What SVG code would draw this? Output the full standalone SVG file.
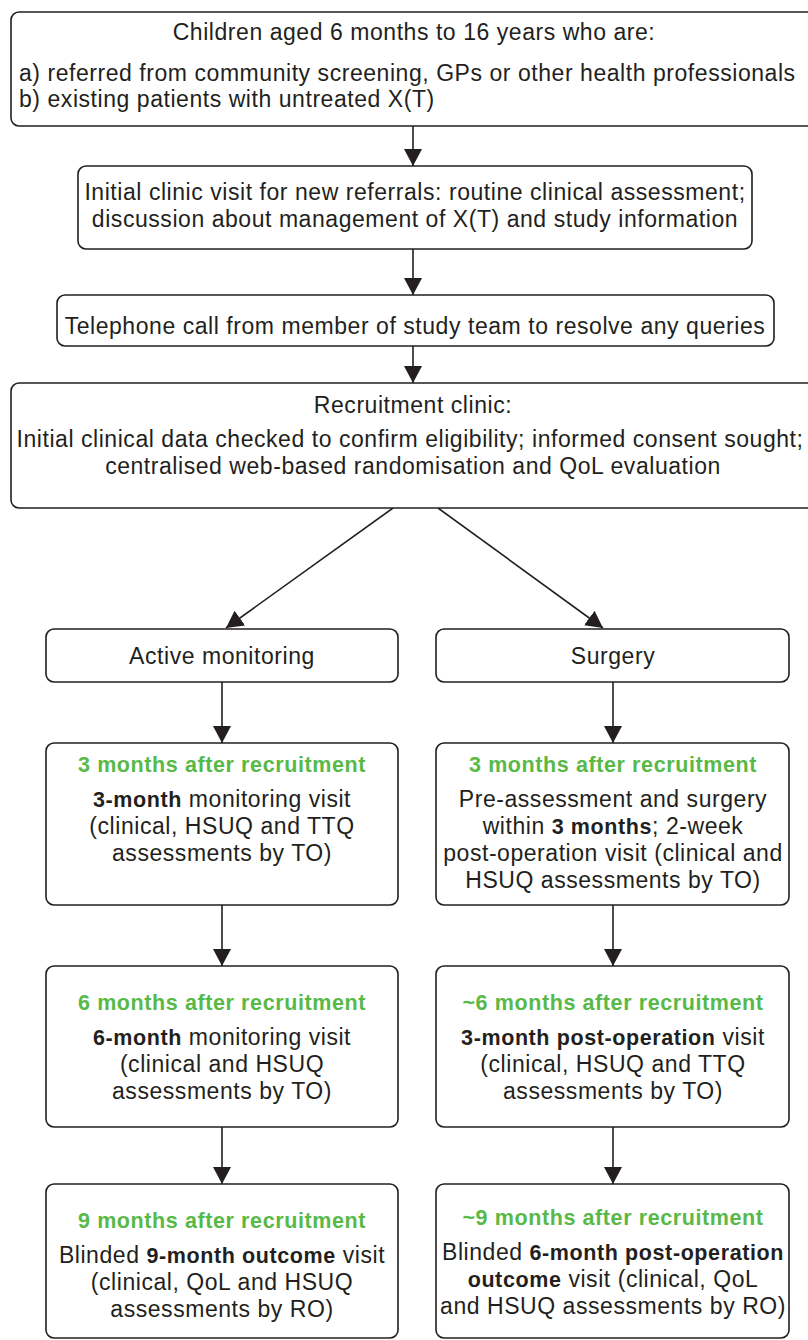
<svg xmlns="http://www.w3.org/2000/svg" width="808" height="1340" viewBox="0 0 808 1340">
<defs>
<style>
.box{fill:#fff;stroke:#231f20;stroke-width:1.6}
.t{font-family:"Liberation Sans",Arial,sans-serif;font-size:23px;letter-spacing:0.55px;fill:#231f20}
.c{text-anchor:middle}
.g{fill:#58b947;font-weight:bold;font-size:21.5px;letter-spacing:0.6px}
.b{font-weight:bold;font-size:21.5px;letter-spacing:0.6px}
.conn{stroke:#231f20;stroke-width:1.6;fill:none;marker-end:url(#ah)}
</style>
<marker id="ah" markerUnits="userSpaceOnUse" markerWidth="17" markerHeight="20" viewBox="0 0 17 20" refX="17" refY="10" orient="auto">
<path d="M0,1 L17,10 L0,19 Z" fill="#231f20"/>
</marker>
</defs>
<g id="connectors">
<line class="conn" x1="413" y1="126" x2="413" y2="166"/>
<line class="conn" x1="413" y1="249" x2="413" y2="295"/>
<line class="conn" x1="413" y1="346" x2="413" y2="383"/>
<line class="conn" x1="393" y1="508" x2="226" y2="628"/>
<line class="conn" x1="438" y1="508" x2="603" y2="628"/>
<line class="conn" x1="222" y1="682" x2="222" y2="743"/>
<line class="conn" x1="613" y1="682" x2="613" y2="743"/>
<line class="conn" x1="222" y1="905" x2="222" y2="966"/>
<line class="conn" x1="613" y1="905" x2="613" y2="966"/>
<line class="conn" x1="222" y1="1127" x2="222" y2="1184"/>
<line class="conn" x1="613" y1="1127" x2="613" y2="1184"/>
</g>
<g id="n1">
<rect class="box" x="11" y="12" width="810" height="114" rx="8"/>
<text class="t c" x="414" y="40">Children aged 6 months to 16 years who are:</text>
<text class="t" x="19" y="81">a) referred from community screening, GPs or other health professionals<tspan x="19" dy="26">b) existing patients with untreated X(T)</tspan></text>
</g>
<g id="n2">
<rect class="box" x="78" y="166" width="674" height="83" rx="8"/>
<text class="t c" x="415" y="200">Initial clinic visit for new referrals: routine clinical assessment;<tspan x="415" dy="27">discussion about management of X(T) and study information</tspan></text>
</g>
<g id="n3">
<rect class="box" x="57" y="295" width="717" height="51" rx="8"/>
<text class="t c" x="415" y="334">Telephone call from member of study team to resolve any queries</text>
</g>
<g id="n4">
<rect class="box" x="11" y="383" width="810" height="125" rx="8"/>
<text class="t c" x="413" y="413">Recruitment clinic:</text>
<text class="t c" x="410" y="447">Initial clinical data checked to confirm eligibility; informed consent sought;<tspan x="413" dy="27">centralised web-based randomisation and QoL evaluation</tspan></text>
</g>
<g id="n5">
<rect class="box" x="46" y="629" width="352" height="53" rx="8"/>
<text class="t c" x="222" y="664">Active monitoring</text>
</g>
<g id="n6">
<rect class="box" x="436" y="629" width="353" height="53" rx="8"/>
<text class="t c" x="613" y="664">Surgery</text>
</g>
<g id="n7">
<rect class="box" x="46" y="743" width="352" height="162" rx="8"/>
<text class="t c g" x="222" y="772">3 months after recruitment</text>
<text class="t c" x="222" y="807"><tspan class="b">3-month</tspan> monitoring visit<tspan x="222" dy="27">(clinical, HSUQ and TTQ</tspan><tspan x="222" dy="27">assessments by TO)</tspan></text>
</g>
<g id="n8">
<rect class="box" x="436" y="743" width="353" height="162" rx="8"/>
<text class="t c g" x="613" y="772">3 months after recruitment</text>
<text class="t c" x="613" y="807">Pre-assessment and surgery<tspan x="613" dy="27">within <tspan class="b">3 months</tspan>; 2-week</tspan><tspan x="613" dy="27">post-operation visit (clinical and</tspan><tspan x="613" dy="27">HSUQ assessments by TO)</tspan></text>
</g>
<g id="n9">
<rect class="box" x="46" y="966" width="352" height="161" rx="8"/>
<text class="t c g" x="222" y="1010">6 months after recruitment</text>
<text class="t c" x="222" y="1045"><tspan class="b">6-month</tspan> monitoring visit<tspan x="222" dy="27">(clinical and HSUQ</tspan><tspan x="222" dy="27">assessments by TO)</tspan></text>
</g>
<g id="n10">
<rect class="box" x="436" y="966" width="353" height="161" rx="8"/>
<text class="t c g" x="613" y="1010">~6 months after recruitment</text>
<text class="t c" x="613" y="1045"><tspan class="b">3-month post-operation</tspan> visit<tspan x="613" dy="27">(clinical, HSUQ and TTQ</tspan><tspan x="613" dy="27">assessments by TO)</tspan></text>
</g>
<g id="n11">
<rect class="box" x="46" y="1184" width="352" height="154" rx="8"/>
<text class="t c g" x="222" y="1228">9 months after recruitment</text>
<text class="t c" x="222" y="1263">Blinded <tspan class="b">9-month outcome</tspan> visit<tspan x="222" dy="27">(clinical, QoL and HSUQ</tspan><tspan x="222" dy="27">assessments by RO)</tspan></text>
</g>
<g id="n12">
<rect class="box" x="436" y="1184" width="353" height="154" rx="8"/>
<text class="t c g" x="613" y="1225">~9 months after recruitment</text>
<text class="t c" x="613" y="1260">Blinded <tspan class="b">6-month post-operation</tspan><tspan x="613" dy="27"><tspan class="b">outcome</tspan> visit (clinical, QoL</tspan><tspan x="613" dy="27">and HSUQ assessments by RO)</tspan></text>
</g>
</svg>
